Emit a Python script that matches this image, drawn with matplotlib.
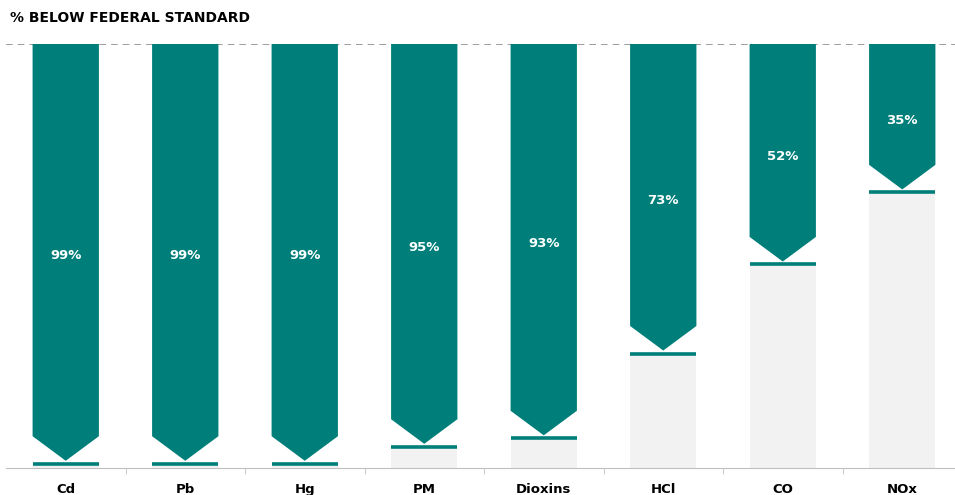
import numpy as np
import matplotlib.pyplot as plt
from matplotlib.patches import Polygon

# -------------------------------
# Share of each pollutant below the federal standard
pollutants = ["Cd", "Pb", "Hg", "PM", "Dioxins", "HCl", "CO", "NOx"]
pct_below = [99, 99, 99, 95, 93, 73, 52, 35]

teal = "#007F7A"
grey = "#F2F2F2"

fig = plt.figure(figsize=(9.55, 4.95), dpi=100)
ax = fig.add_axes([6 / 955, 27 / 495, 956 / 955, 424 / 495])

bar_w = 0.555
head_h = 0.058
gap = 0.007

for i, p in enumerate(pct_below):
    v = p / 100
    level = 1 - v
    # grey remainder from the baseline up to the level
    ax.bar(i, level, width=bar_w, color=grey, zorder=1)
    # arrow hanging down from the standard line
    tip = level + gap
    shoulder = tip + head_h
    x0, x1 = i - bar_w / 2, i + bar_w / 2
    arrow = Polygon([(x0, 1), (x1, 1), (x1, shoulder), (i, tip), (x0, shoulder)],
                    closed=True, facecolor=teal, edgecolor="none", zorder=2)
    ax.add_patch(arrow)
    # teal marker line at the level
    ax.plot([x0, x1], [level, level], color=teal, lw=2.6, solid_capstyle="butt", zorder=3)
    ax.text(i, (1 + tip) / 2 - 0.008, f"{p}%", ha="center", va="center",
            color="white", fontsize=9.5, fontweight="bold", zorder=4)

# dashed federal standard line
ax.axhline(1, color="#8C8C8C", lw=1.2, ls=(0, (4, 3)), zorder=0)

ax.set_xlim(-0.5, len(pollutants) - 0.5)
ax.set_ylim(0, 1)
ax.set_yticks([])
ax.set_xticks(range(len(pollutants)))
ax.set_xticklabels(pollutants, fontsize=9.5, fontweight="bold")
ax.set_xticks(np.arange(len(pollutants) - 1) + 0.5, minor=True)
ax.tick_params(axis="x", which="major", length=0, pad=11)
ax.tick_params(axis="x", which="minor", length=4, color="#BFBFBF")
for side in ["top", "left", "right"]:
    ax.spines[side].set_visible(False)
ax.spines["bottom"].set_color("#BFBFBF")

fig.text(10 / 955, 1 - 18 / 495, "% BELOW FEDERAL STANDARD", ha="left", va="center",
         fontsize=10, fontweight="bold")

fig.savefig("out.png", dpi=100)
